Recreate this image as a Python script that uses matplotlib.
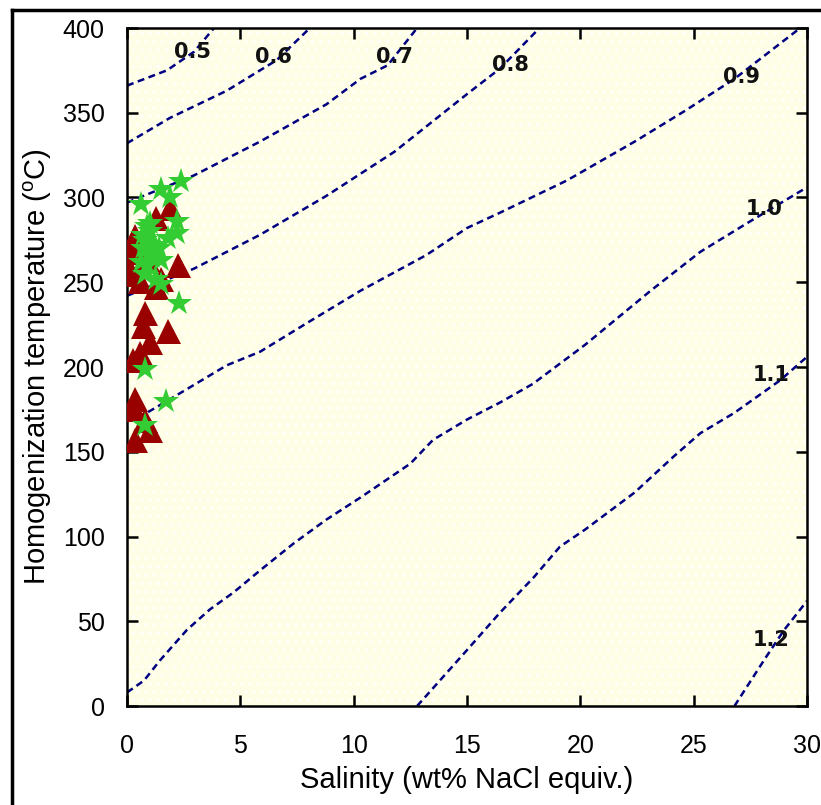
import matplotlib.pyplot as plt
from matplotlib.lines import Line2D
from matplotlib.patches import Rectangle

# density isochores (g/cm3) of NaCl-H2O
levels = ["0.5", "0.6", "0.7", "0.8", "0.9", "1.0", "1.1", "1.2"]

sal_05 = [0, 1.76, 2.96, 3.84]
temp_05 = [366, 375, 386, 400]

sal_06 = [0, 1.9, 4.4, 6.6, 8.07]
temp_06 = [332, 347, 363, 381, 400]

sal_07 = [0, 2.95, 5.87, 8.8, 10.3, 11.5, 12.8]
temp_07 = [297, 313, 333, 355, 370, 378, 400]

sal_08 = [0, 2.95, 5.87, 8.8, 11.8, 15.0, 16.45, 18.2]
temp_08 = [242, 258, 278, 301, 327, 361, 376, 400]

sal_09 = [0, 0.88, 2.65, 4.4, 5.87, 8.07, 10.3, 13.2, 15.0, 16.45, 19.4, 22.4, 24.6, 26.8, 29.7]
temp_09 = [168, 173, 187, 201, 209, 227, 245, 266, 282, 291, 310, 333, 351, 370, 400]

sal_10 = [0, 0.75, 1.46, 2.65, 3.66, 4.7, 5.87, 7.36, 8.8, 10.3, 12.5, 13.5, 15.0,
          16.45, 17.9, 20.2, 23.1, 25.3, 27.5, 30]
temp_10 = [8, 15, 27, 45, 57, 67, 80, 96, 110, 123, 143, 157, 169,
           179, 190, 213, 245, 268, 286, 306]

sal_11 = [12.8, 15.0, 16.45, 17.95, 19.1, 20.2, 22.4, 24.1, 25.3, 26.8, 28.8, 30]
temp_11 = [0, 33, 55, 76, 94, 104, 126, 147, 161, 173, 192, 206]

sal_12 = [26.8, 28.2, 29.0, 30]
temp_12 = [0, 29, 45, 62]

# fluid inclusion data
tri_sal = [1.9, 1.3, 0.35, 0.15, 2.25, 0.2, 0.57, 1.3, 0.8, 0.7, 1.8, 1.0, 0.57,
           0.26, 0.35, 0.3, 0.8, 1.0, 0.35, 1.0, 0.6, 0.1, 1.5, 0.9]
tri_temp = [294, 288, 277, 270, 260, 255, 251, 247, 232, 224, 221, 215, 208,
            204, 181, 175, 169, 163, 157, 275, 268, 258, 252, 264]

star_sal = [2.4, 1.5, 1.9, 0.6, 0.9, 2.2, 1.8, 2.2, 1.0, 0.8, 1.2, 0.7, 1.0, 1.4,
            0.6, 0.9, 1.1, 1.5, 0.8, 1.3, 1.5, 2.3, 0.8, 1.7, 0.8, 1.0, 0.7]
star_temp = [310, 305, 300, 296, 283, 286, 276, 279, 280, 275, 272, 270, 268, 270,
             262, 260, 265, 263, 255, 252, 249, 238, 199, 180, 166, 285, 278]

iso_lines = [
    (sal_05, temp_05), (sal_06, temp_06), (sal_07, temp_07), (sal_08, temp_08),
    (sal_09, temp_09), (sal_10, temp_10), (sal_11, temp_11), (sal_12, temp_12),
]
label_pos = [(2.9, 386), (6.45, 383), (11.8, 383), (16.9, 378),
             (27.1, 371), (28.1, 293), (28.4, 195), (28.4, 39)]

plt.rcParams["font.family"] = ["Liberation Sans", "DejaVu Sans"]
plt.rcParams["mathtext.fontset"] = "custom"
plt.rcParams["mathtext.rm"] = "Liberation Sans"

fig = plt.figure(figsize=(8.21, 8.05), dpi=100)
ax = fig.add_axes([127 / 821, 99 / 805, 680 / 821, 678 / 805])

ax.set_facecolor("#fefee6")
ax.add_patch(Rectangle((0, 0), 30, 400, facecolor="none", edgecolor="white",
                       hatch="..", linewidth=0, zorder=0))

for (sal, temp) in iso_lines:
    ax.plot(sal, temp, color="#000080", linestyle=(0, (2.8, 1.8)), linewidth=1.8, zorder=2)

for text, (x, y) in zip(levels, label_pos):
    ax.text(x, y, text, ha="center", va="center", fontsize=15, fontweight="bold",
            family="DejaVu Sans", color="#111111", zorder=3)

ax.plot(tri_sal, tri_temp, linestyle="none", marker="^", markersize=18,
        color="#990000", markeredgewidth=0, zorder=4)
ax.plot(star_sal, star_temp, linestyle="none", marker="*", markersize=19,
        color="#33cc33", markeredgewidth=0, zorder=5)

ax.set_xlim(0, 30)
ax.set_ylim(0, 400)
ax.set_xticks(range(0, 31, 5))
ax.set_yticks(range(0, 401, 50))
ax.tick_params(direction="in", length=8, width=1.8, top=True, right=True, labelsize=18)
ax.tick_params(axis="x", pad=20)
ax.tick_params(axis="y", pad=16)
for spine in ax.spines.values():
    spine.set_linewidth(1.8)

ax.set_xlabel("Salinity (wt% NaCl equiv.)", fontsize=21, labelpad=6)
ax.set_ylabel(r"Homogenization temperature ($^{\rm o}$C)", fontsize=21, labelpad=6)

# outer frame, cut off at the right and bottom
fig.add_artist(Line2D([12 / 821, 1.0], [1 - 10 / 805, 1 - 10 / 805],
                      transform=fig.transFigure, color="black", linewidth=2.5))
fig.add_artist(Line2D([12 / 821, 12 / 821], [0.0, 1 - 10 / 805],
                      transform=fig.transFigure, color="black", linewidth=2.5))

fig.savefig("out.png", dpi=100)
